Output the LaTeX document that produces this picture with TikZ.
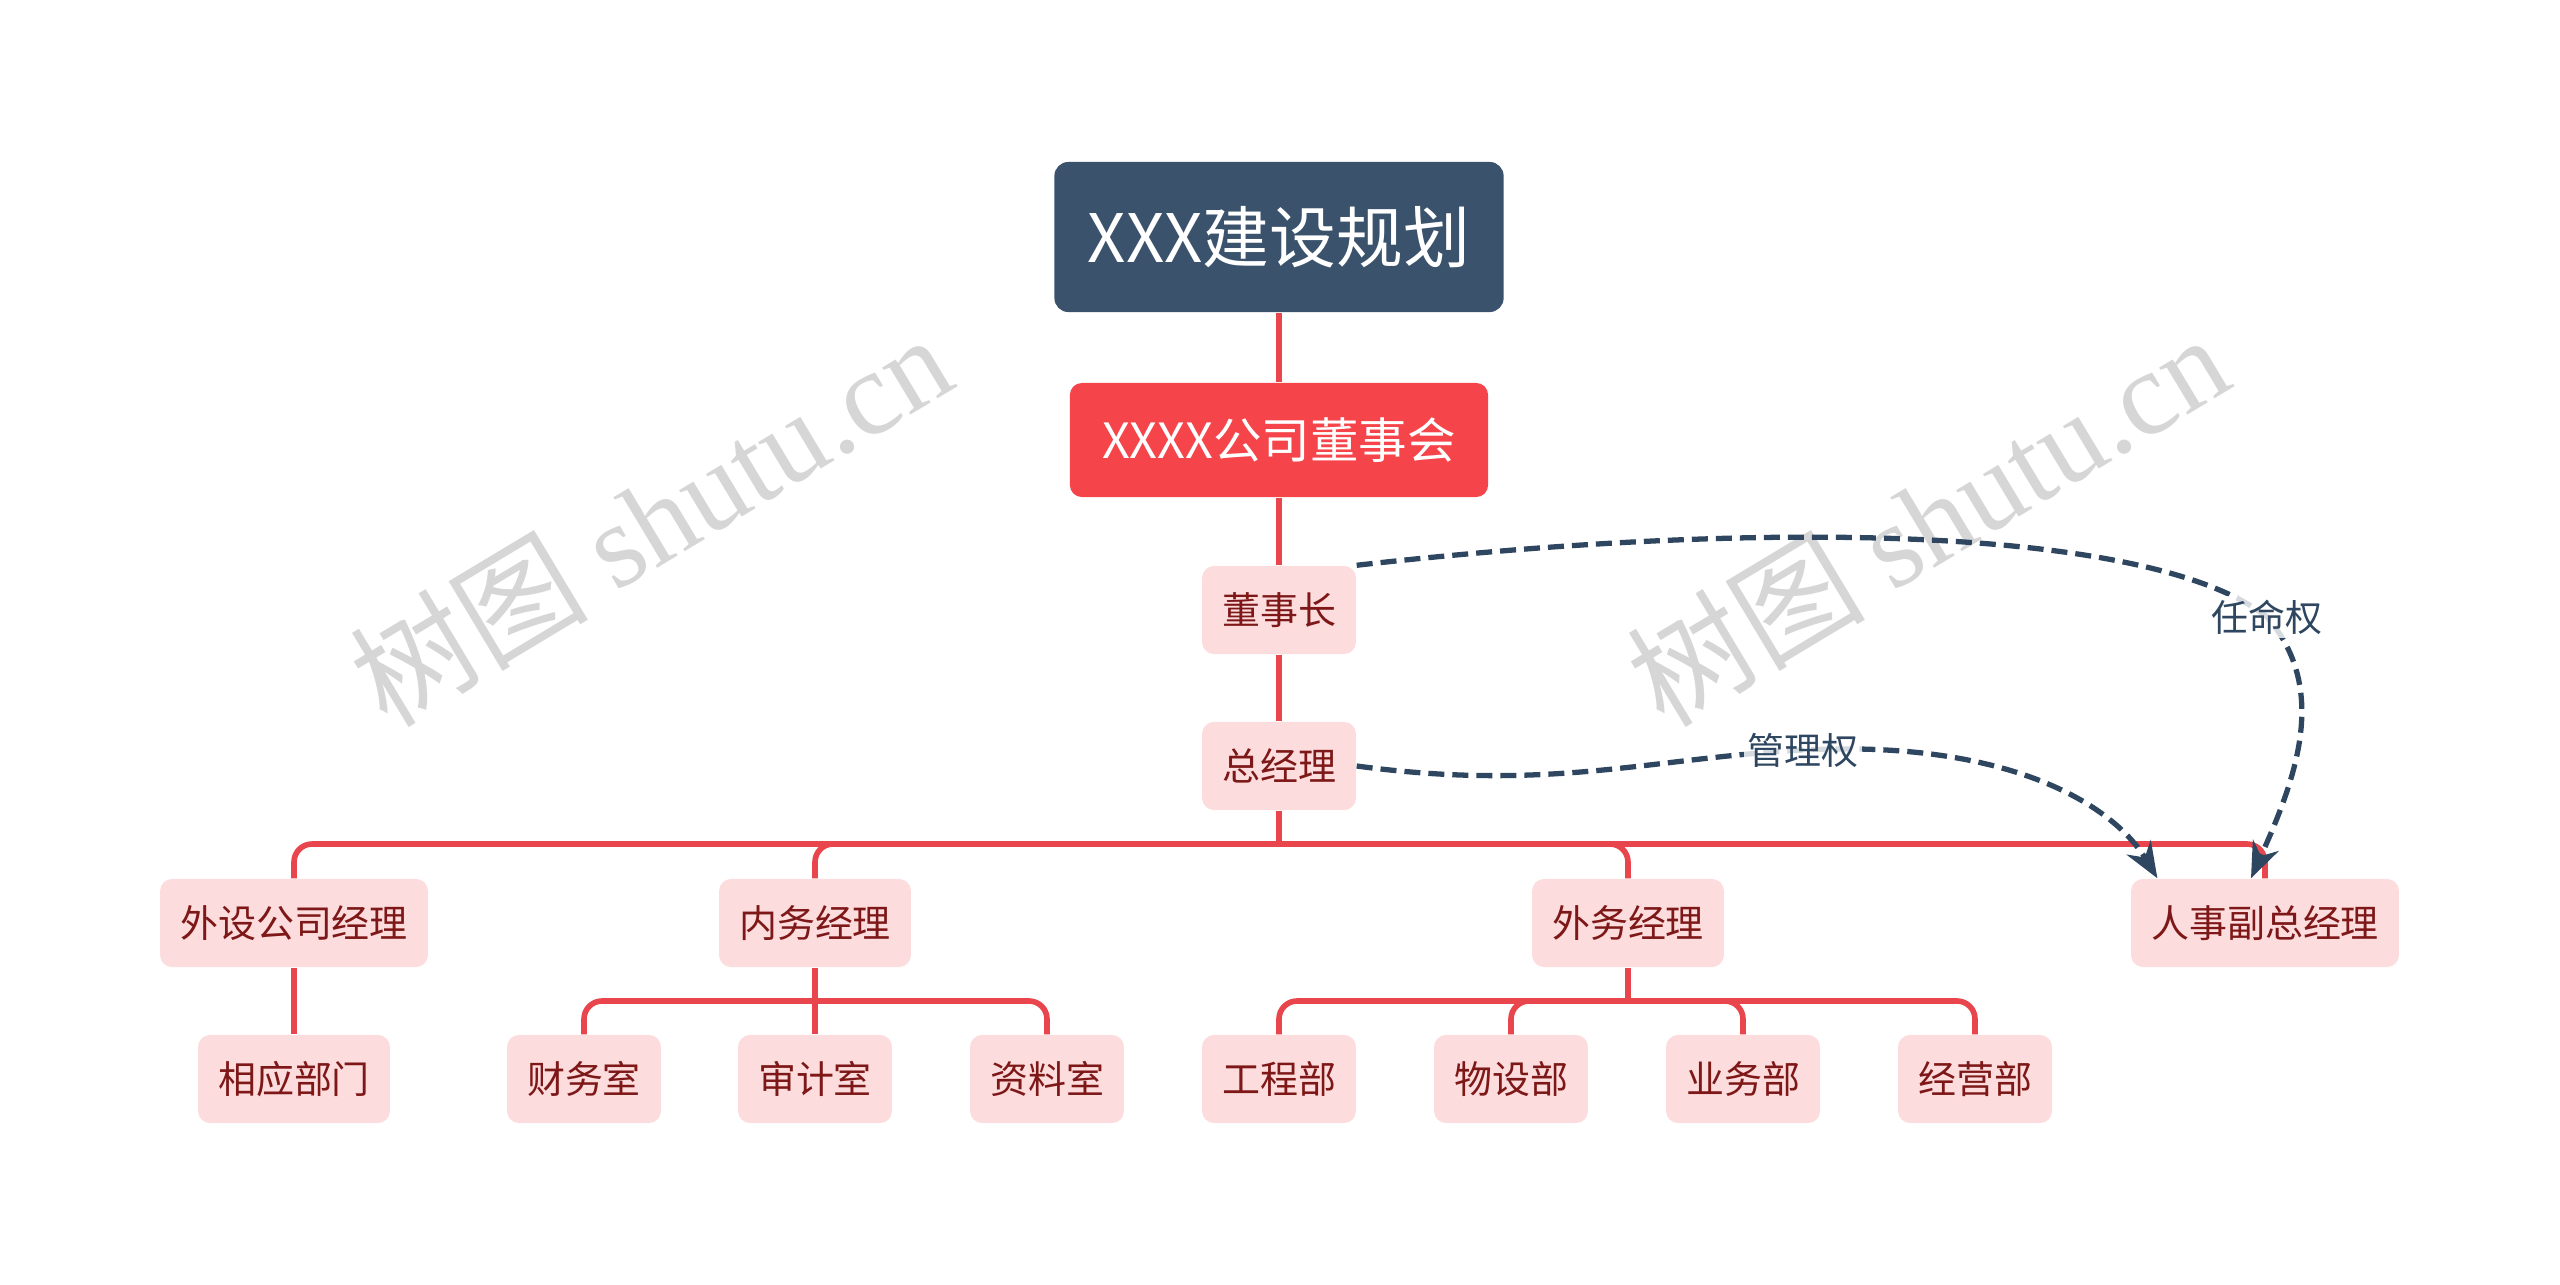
\documentclass[tikz,border=0pt]{standalone}
\usepackage{fontspec}
\setmainfont{Noto Sans CJK SC}
\newfontfamily\wmfont{Liberation Serif}
\usetikzlibrary{arrows.meta}
\definecolor{rootblue}{HTML}{3A526B}
\definecolor{boardred}{HTML}{F5444A}
\definecolor{linered}{HTML}{E8464C}
\definecolor{pinkfill}{HTML}{FCDCDC}
\definecolor{textred}{HTML}{7E1818}
\definecolor{dashblue}{HTML}{2F4660}
\definecolor{wmgray}{HTML}{D6D6D6}

\begin{document}
\begin{tikzpicture}[x=0.01cm, y=-0.01cm, >={Stealth[length=0.36cm, width=0.28cm]},
    box/.style={rounded corners=0.12cm, fill=pinkfill, text=textred, minimum height=0.88cm,
        inner xsep=0.2cm, font=\fontsize{10.8pt}{12pt}\selectfont},
    link/.style={draw=linered, line width=1.6pt, rounded corners=0.18cm},
    quan/.style={->, draw=dashblue, line width=1.5pt, dash pattern=on 0.16cm off 0.08cm},
    lbl/.style={fill=white, fill opacity=0.8, text opacity=1, text=dashblue, inner sep=1pt,
        font=\fontsize{10.5pt}{12pt}\selectfont},
    wm/.style={text=wmgray, rotate=31, font=\fontsize{34pt}{36pt}\selectfont}]
    \useasboundingbox (0,0) rectangle (2560,1285);

    % 1. 水印 (置于底层)
    \node[wm] (wm1) at (650,519) {树图 {\wmfont shutu.cn}};
    \node[wm] (wm2) at (1927,519) {树图 {\wmfont shutu.cn}};

    % 2. 主干节点
    \node[rounded corners=0.14cm, fill=rootblue, text=white, minimum width=4.49cm, minimum height=1.5cm,
        font=\fontsize{19pt}{20pt}\selectfont] (root) at (1279,237) {XXX建设规划};
    \node[rounded corners=0.12cm, fill=boardred, text=white, minimum width=4.18cm, minimum height=1.14cm,
        font=\fontsize{13.8pt}{15pt}\selectfont] (board) at (1279,440) {XXXX公司董事会};
    \node[box] (dsz) at (1279,610) {董事长};
    \node[box] (zjl) at (1279,766) {总经理};

    % 3. 第二层
    \node[box] (wsgs) at (294,923) {外设公司经理};
    \node[box] (nwjl) at (815,923) {内务经理};
    \node[box] (wwjl) at (1628,923) {外务经理};
    \node[box] (rsfz) at (2265,923) {人事副总经理};

    % 4. 第三层
    \node[box] (xybm) at (294,1079) {相应部门};
    \node[box] (cws) at (584,1079) {财务室};
    \node[box] (sjs) at (815,1079) {审计室};
    \node[box] (zls) at (1047,1079) {资料室};
    \node[box] (gcb) at (1279,1079) {工程部};
    \node[box] (wsb) at (1511,1079) {物设部};
    \node[box] (ywb) at (1743,1079) {业务部};
    \node[box] (jyb) at (1975,1079) {经营部};

    % 5. 连线
    \draw[link] (root.south) -- (board.north) (board.south) -- (dsz.north) (dsz.south) -- (zjl.north);
    \coordinate (h0) at (1279,844);
    \coordinate (h1) at (815,1001);
    \coordinate (h2) at (1628,1001);
    \draw[link] (zjl.south) -- (h0);
    \foreach \c in {wsgs,nwjl,wwjl,rsfz} \draw[link] (h0) -| (\c.north);
    \draw[link] (wsgs.south) -- (xybm.north);
    \draw[link] (nwjl.south) -- (h1);
    \foreach \c in {cws,sjs,zls} \draw[link] (h1) -| (\c.north);
    \draw[link] (wwjl.south) -- (h2);
    \foreach \c in {gcb,wsb,ywb,jyb} \draw[link] (h2) -| (\c.north);

    % 6. 虚线关系
    \coordinate (rm) at (2267,617);
    \coordinate (gl) at (1803,750);
    \draw[quan] (dsz.north east) .. controls (1800,515) and (2160,532) .. (rm)
        .. controls (2330,690) and (2295,780) .. ([xshift=-0.14cm]rsfz.north);
    \draw[quan] (zjl.east) .. controls (1550,792) and (1650,758) .. (gl)
        .. controls (2000,740) and (2110,800) .. ([xshift=0.27cm]rsfz.north west);
    \node[lbl] (rml) at (rm) {任命权};
    \node[lbl] (gll) at (gl) {管理权};
\end{tikzpicture}
\end{document}
